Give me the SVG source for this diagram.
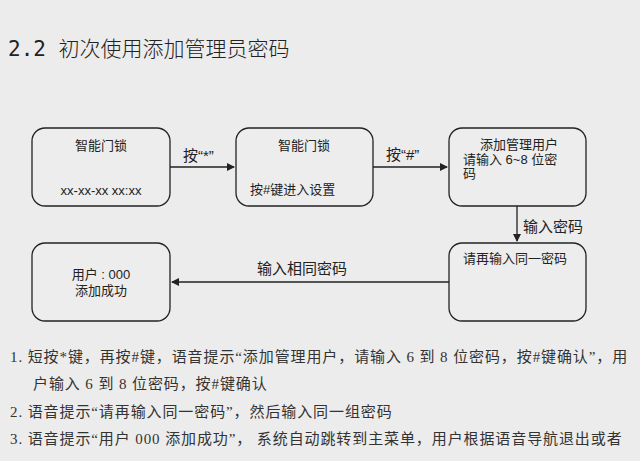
<svg xmlns="http://www.w3.org/2000/svg" width="640" height="461" viewBox="0 0 640 461">
<style>
.b{fill:#ededed;stroke:#222;stroke-width:1.3}
.t{font-family:"Liberation Sans","Noto Sans CJK SC",sans-serif;font-size:13px;fill:#222}
.l{font-family:"Liberation Sans","Noto Sans CJK SC",sans-serif;font-size:15px;fill:#222}
.p{font-family:"Liberation Serif","Noto Sans CJK SC",serif;font-size:15px;fill:#333;letter-spacing:0.9px}
.c{stroke:#222;stroke-width:1.3;fill:none}
</style>
<defs><marker id="a" markerWidth="8" markerHeight="8" refX="7" refY="4" orient="auto" markerUnits="userSpaceOnUse"><path d="M0,0L8,4L0,8z" fill="#222"/></marker></defs>
<rect width="640" height="461" fill="#ececec"/>
<text x="8" y="56" font-family="DejaVu Sans Mono,Noto Sans CJK SC,sans-serif" font-size="21" font-weight="300" fill="#222">2.2 初次使用添加管理员密码</text>
<g id="n1"><rect class="b" x="32" y="128" width="138" height="78" rx="13"/><text class="t" x="101" y="150" text-anchor="middle">智能门锁</text><text class="t" x="101" y="195" text-anchor="middle">xx-xx-xx xx:xx</text></g>
<g id="n2"><rect class="b" x="236" y="128" width="137" height="78" rx="13"/><text class="t" x="304" y="150" text-anchor="middle">智能门锁</text><text class="t" x="250" y="194">按#键进入设置</text></g>
<g id="n3"><rect class="b" x="449" y="128" width="137" height="78" rx="13"/><text class="t" x="519" y="149" text-anchor="middle">添加管理用户</text><text class="t" x="463" y="164">请输入 6~8 位密</text><text class="t" x="463" y="178">码</text></g>
<g id="n4"><rect class="b" x="449" y="243" width="137" height="78" rx="13"/><text class="t" x="463" y="263">请再输入同一密码</text></g>
<g id="n5"><rect class="b" x="32" y="243" width="138" height="78" rx="13"/><text class="t" x="101" y="279" text-anchor="middle">用户 : 000</text><text class="t" x="101" y="295" text-anchor="middle">添加成功</text></g>
<g id="edges">
<path class="c" d="M170,167H234" marker-end="url(#a)"/>
<path class="c" d="M373,167H447" marker-end="url(#a)"/>
<path class="c" d="M517,206V241" marker-end="url(#a)"/>
<path class="c" d="M449,282H172" marker-end="url(#a)"/>
<text class="l" x="183" y="161">按“*”</text>
<text class="l" x="386" y="160">按“#”</text>
<text class="l" x="523" y="232">输入密码</text>
<text class="l" x="257" y="274">输入相同密码</text>
</g>
<text class="p" x="10" y="362">1.  短按*键，再按#键，语音提示“添加管理用户，请输入 6 到 8 位密码，按#键确认”，用</text>
<text class="p" x="33" y="389">户输入 6 到 8 位密码，按#键确认</text>
<text class="p" x="10" y="417">2.  语音提示“请再输入同一密码”，然后输入同一组密码</text>
<text class="p" x="10" y="444">3.  语音提示“用户 000 添加成功”， 系统自动跳转到主菜单，用户根据语音导航退出或者</text>
</svg>
